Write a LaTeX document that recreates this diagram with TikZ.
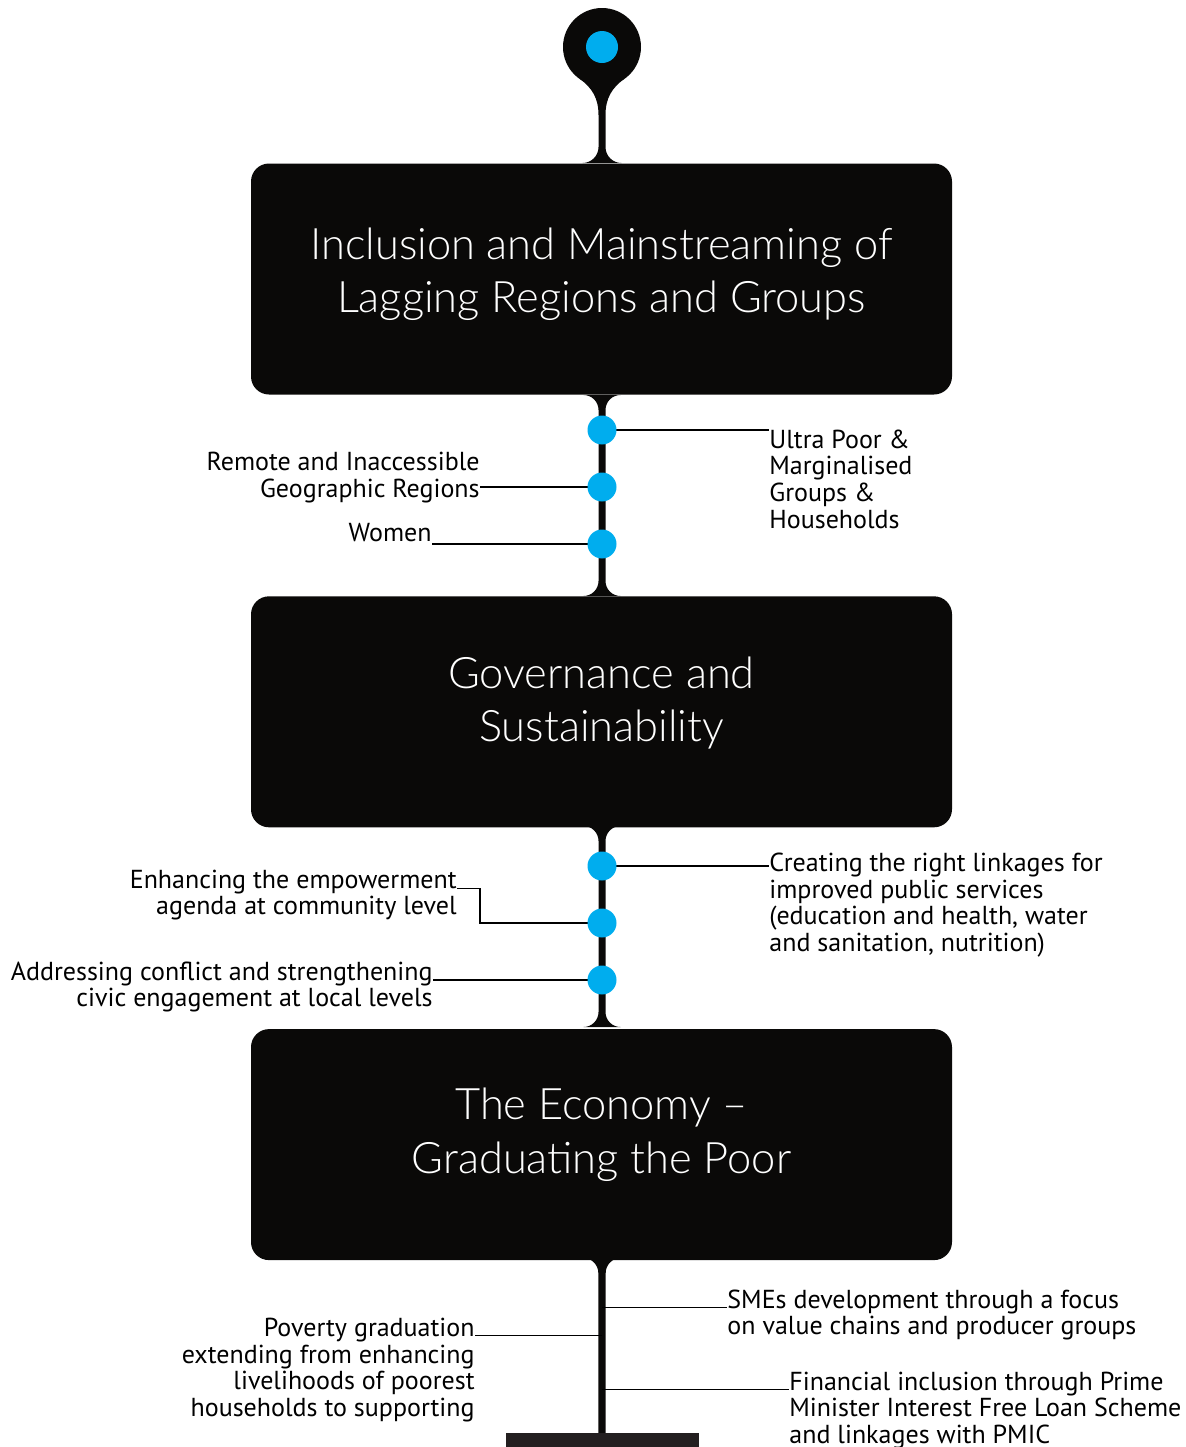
\documentclass[tikz,border=0pt]{standalone}
\usepackage{fontspec}
\setmainfont{PT Sans}
\newfontfamily\stagefont{Lato Light}
\usetikzlibrary{positioning}
\definecolor{ink}{RGB}{10,9,8}
\definecolor{beadblue}{RGB}{0,173,238}
\definecolor{plinth}{RGB}{35,31,32}
\tikzset{
    stage/.style={%
        fill=ink, rounded corners=9pt,
        minimum width=350.5pt,
        minimum height=115.5pt
    },
    title/.style={%
        text=white, align=center,
        font=\stagefont\fontsize{21.7}{26.65}\selectfont
    },
    bead/.style={circle, fill=beadblue, inner sep=0pt, minimum size=#1},
    bead/.default=14.5pt,
    note/.style={inner sep=0pt, font=\fontsize{13}{13.3}\selectfont},
    lead/.style={line width=0.75pt}
}
% black spine between two boxes, with rounded fillets at both ends (px units)
\newcommand{\stemlink}[2]{%
    \fill[ink] (583.5,#1) arc[start angle=-90, end angle=0, radius=15]
        -- (598.5,#2-15) arc[start angle=0, end angle=90, radius=15]
        -- (620.5,#2) arc[start angle=90, end angle=180, radius=15]
        -- (605.5,#1+15) arc[start angle=180, end angle=270, radius=15] -- cycle;
}

\begin{document}
\begin{tikzpicture}[x=0.5pt, y=-0.5pt]
    \useasboundingbox (0,0) rectangle (1185,1447);

    % pin on top
    \fill[ink] (602,47) circle[radius=39];
    \fill[ink] (580,79) .. controls (592,88) and (598.5,98) .. (598.5,115)
        -- (598.5,147) arc[start angle=0, end angle=90, radius=16]
        -- (621.5,163) arc[start angle=90, end angle=180, radius=16]
        -- (605.5,115) .. controls (605.5,98) and (612,88) .. (624,79) -- cycle;
    \node[bead=16pt] (P0) at (602,47) {};

    % the three stages
    \node[stage] (B1) at (601.5,279) {};
    \node[stage, below=100.5pt of B1] (B2) {};
    \node[stage, below=100.5pt of B2] (B3) {};
    \node[title] (T1) at ([yshift=2.5pt]B1.center) {Inclusion and Mainstreaming of\\Lagging Regions and Groups};
    \node[title] (T2) at ([yshift=4.25pt]B2.center) {Governance and\\Sustainability};
    \node[title] (T3) at ([yshift=5pt]B3.center) {The Economy \textendash\\Graduating the Poor};

    \stemlink{395}{596}
    \stemlink{826}{1027}

    % last spine down to the plinth
    \fill[ink] (583.3,1258) arc[start angle=-90, end angle=0, radius=15]
        -- (598.3,1433) -- (605.7,1433)
        -- (605.7,1273) arc[start angle=180, end angle=270, radius=15] -- cycle;
    \fill[plinth] (506,1433) rectangle (699,1450);

    % beads
    \foreach \n/\y in {1/430, 2/487, 3/544, 4/866, 5/923, 6/980}
        \coordinate (D\n) at (602,\y);
    \coordinate (S1) at (602,1307.7);
    \coordinate (S2) at (602,1335.5);
    \coordinate (S3) at (602,1389.5);
    \coordinate (K5) at (480,888.3);

    % notes (base anchor = last line)
    \node[note, anchor=base west, align=left] (L1) at (769,528.1)
        {Ultra Poor \&\\Marginalised\\Groups \&\\Households};
    \node[note, anchor=base east, align=right] (L2) at (480,497.3)
        {Remote and Inaccessible\\Geographic Regions};
    \node[note, anchor=base east, align=right] (L3) at (432,541.7) {Women};
    \node[note, anchor=base west, align=left] (L4) at (769,951.5)
        {Creating the right linkages for\\improved public services\\(education and health, water\\and sanitation, nutrition)};
    \node[note, anchor=base east, align=right] (L5) at (457,914.9)
        {Enhancing the empowerment\\agenda at community level};
    \node[note, anchor=base east, align=right] (L6) at (433,1006.6)
        {Addressing conflict and strengthening\\civic engagement at local levels};
    \node[note, anchor=base west, align=left] (L7) at (727,1334.9)
        {SMEs development through a focus\\on value chains and producer groups};
    \node[note, anchor=base east, align=right] (L8) at (475,1416.5)
        {Poverty graduation\\extending from enhancing\\livelihoods of poorest\\households to supporting};
    \node[note, anchor=base west, align=left] (L9) at (789,1443.2)
        {Financial inclusion through Prime\\Minister Interest Free Loan Scheme\\and linkages with PMIC};

    % leads
    \draw[lead] (D1) -- (D1 -| L1.west);
    \draw[lead] (D2) -- (D2 -| L2.east);
    \draw[lead] (D3) -- (D3 -| L3.east);
    \draw[lead] (D4) -- (D4 -| L4.west);
    \draw[lead] (D5) -| (K5) -- (K5 -| L5.east);
    \draw[lead] (D6) -- (D6 -| L6.east);
    \draw[lead] (S1) -- (S1 -| L7.west);
    \draw[lead] (S2) -- (S2 -| L8.east);
    \draw[lead] (S3) -- (S3 -| L9.west);

    \foreach \n in {1,...,6}
        \node[bead] at (D\n) {};
\end{tikzpicture}
\end{document}
